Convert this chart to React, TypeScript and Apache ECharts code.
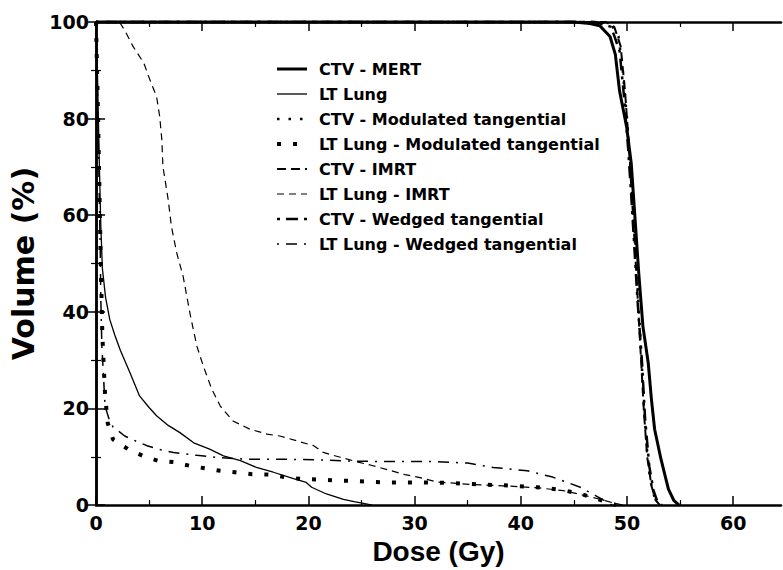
import React, { useEffect, useRef } from "react";
import * as echarts from "echarts";

// ---- Data ----
const seriesNames = [
  "CTV - MERT",
  "LT Lung",
  "CTV - Modulated tangential",
  "LT Lung - Modulated tangential",
  "CTV - IMRT",
  "LT Lung - IMRT",
  "CTV - Wedged tangential",
  "LT Lung - Wedged tangential",
];

const xTickLabels = [0, 10, 20, 30, 40, 50, 60];
const xMinorTicks = [5, 15, 25, 35, 45, 55];

const ctvMertDose = [0, 45, 46.5, 47.45, 48.4, 48.9, 49.3, 49.97, 50.4, 50.75, 51.1, 51.5, 52.0, 52.3, 52.6, 53.2, 53.9, 54.4, 54.9];
const ctvMertVol = [100, 100, 99.7, 99.2, 97, 93.3, 85.7, 78.2, 70.7, 59.5, 48.2, 37, 29.4, 21.9, 15.7, 9.5, 3.3, 1, 0];

const ltLungDose = [0, 0.15, 0.3, 0.45, 0.6, 0.9, 1.3, 1.8, 2.3, 3.2, 4.1, 5.0, 5.7, 6.8, 7.9, 9.2, 10.7, 12.0, 13.6, 15.1, 16.7, 18.6, 19.8, 20.3, 21.7, 23.3, 24.3, 25.2, 26.0];
const ltLungVol = [100, 88, 72, 58, 49, 43, 38.4, 35, 32, 27.4, 22.6, 20.2, 18.5, 16.5, 15, 12.9, 11.6, 10.2, 9.2, 7.8, 6.8, 5.5, 4.7, 3.7, 2.3, 1.2, 0.7, 0.35, 0];

const ctvModDose = [0, 47.5, 48.5, 49.2, 49.6, 50.0, 50.4, 50.7, 51.0, 51.3, 51.6, 51.9, 52.2, 52.6, 53.0];
const ctvModVol = [100, 100, 99.5, 97, 90, 80, 68, 58, 45, 33, 20, 11, 5, 1.5, 0];

const ltLungModDose = [0, 0.15, 0.3, 0.45, 0.6, 0.85, 1.1, 1.6, 3.0, 4.4, 5.8, 7.3, 8.9, 10.3, 11.7, 13.1, 14.7, 16.4, 18.0, 19.5, 21.0, 22.7, 24.4, 26.0, 27.5, 29.3, 30.8, 33.0, 35.8, 38.3, 41.5, 43.7, 45.5, 47.0, 48.2, 49.0];
const ltLungModVol = [100, 85, 68, 50, 35, 23, 17, 13.6, 11.6, 10.2, 9.2, 8.9, 8.1, 7.6, 7.1, 6.8, 6.4, 6.3, 5.7, 5.4, 5.3, 5.1, 5.0, 4.8, 4.7, 4.7, 4.7, 4.6, 4.3, 4.1, 3.7, 3.2, 2.4, 1.4, 0.6, 0];

const ctvImrtDose = [0, 48, 48.8, 49.4, 49.8, 50.1, 50.4, 50.7, 51.0, 51.3, 51.6, 51.9, 52.3, 52.7, 53.1];
const ctvImrtVol = [100, 100, 99, 95, 86, 77, 66, 55, 43, 31, 19, 10, 4, 1, 0];

const ltLungImrtDose = [0, 2.2, 2.7, 3.5, 4.5, 5.2, 5.7, 6.0, 6.2, 6.3, 6.8, 7.1, 7.6, 8.2, 8.9, 9.5, 10.1, 10.9, 11.7, 12.9, 14.5, 16.1, 17.3, 18.9, 20.5, 21.4, 23.0, 24.5, 26.0, 27.5, 29.1, 30.5, 32.1, 35.2, 38.3, 41.5, 44.0, 46.0, 47.5, 48.8, 49.6];
const ltLungImrtVol = [100, 100, 98.3, 94.9, 91.5, 87.3, 84.6, 80.4, 75.6, 70.1, 63.2, 57.7, 52.2, 47.4, 39.1, 32.9, 28.8, 24.0, 20.5, 17.4, 15.7, 14.7, 14.3, 13.3, 12.3, 10.9, 9.9, 9.0, 8.2, 7.3, 6.3, 5.7, 4.8, 4.3, 4.0, 3.6, 3.0, 2.0, 1.2, 0.4, 0];

const ctvWedgedDose = [0, 47, 48.5, 49.3, 49.7, 50.1, 50.4, 50.7, 51.0, 51.4, 51.7, 52.1, 52.5, 52.9, 53.3];
const ctvWedgedVol = [100, 100, 99, 94, 85, 74, 64, 53, 42, 30, 18, 8, 3, 0.5, 0];

const ltLungWedgedDose = [0, 0.15, 0.3, 0.4, 0.45, 0.55, 0.7, 0.85, 1.2, 1.6, 2.7, 3.8, 4.8, 6.0, 7.3, 9.5, 11.7, 14.2, 17.0, 20.5, 24.0, 28.0, 32.0, 35.0, 37.4, 40.6, 43.0, 44.5, 45.6, 47.0, 48.0, 48.6];
const ltLungWedgedVol = [100, 85, 65, 53, 43, 33, 27, 20.5, 18, 16.2, 14.3, 13.2, 12.3, 11.5, 10.9, 10.3, 9.8, 9.5, 9.5, 9.4, 9.1, 9.0, 9.0, 8.7, 7.8, 7.1, 5.8, 4.6, 3.7, 2.0, 0.8, 0];

const doseArrays = [ctvMertDose, ltLungDose, ctvModDose, ltLungModDose, ctvImrtDose, ltLungImrtDose, ctvWedgedDose, ltLungWedgedDose];
const volArrays = [ctvMertVol, ltLungVol, ctvModVol, ltLungModVol, ctvImrtVol, ltLungImrtVol, ctvWedgedVol, ltLungWedgedVol];

// ---- Styles ----
const lineWidths = [3, 1.3, 2.5, 4, 2, 1.2, 2.5, 1.5];
const lineTypes: any[] = ["solid", "solid", [2.5, 9], [4, 12], [9, 5], [7, 5], [3, 6, 12, 6], [2, 7, 11, 7]];

const TICK_FONT = "DejaVu Sans";
const NAME_FONT = "Liberation Sans";

export default function App() {
  const ref = useRef<HTMLDivElement>(null);
  useEffect(() => {
    document.body.style.margin = "0";
    const chart = echarts.init(ref.current!, null, { renderer: "svg" });
    const axisLine = { show: true, lineStyle: { color: "#000", width: 2.5 } };
    const xBase = { type: "value", min: 0, max: 64.5, splitLine: { show: false } };
    const series = seriesNames.map((name, i) => ({
      name,
      type: "line",
      xAxisIndex: 0,
      yAxisIndex: 0,
      symbol: "none",
      showSymbol: false,
      clip: false,
      lineStyle: { color: "#000", width: lineWidths[i], type: lineTypes[i], cap: "butt" },
      itemStyle: { color: "#000" },
      data: doseArrays[i].map((d, k) => [d, volArrays[i][k]]),
      z: 3,
    }));
    const legendData = seriesNames.map((name, i) => ({
      name,
      lineStyle: { color: "#000", width: lineWidths[i], type: lineTypes[i], cap: "butt" },
    }));
    chart.setOption({
      animation: false,
      backgroundColor: "#fff",
      grid: { left: 96, right: 2, top: 22, bottom: 64, containLabel: false },
      legend: {
        orient: "vertical",
        left: 270,
        top: 56,
        itemWidth: 30,
        itemHeight: 14,
        itemGap: 9,
        data: legendData,
        itemStyle: { opacity: 0 },
        textStyle: {
          fontFamily: TICK_FONT,
          fontWeight: "bold",
          fontSize: 16,
          lineHeight: 16,
          color: "#000",
          padding: [0, 0, 0, 7],
        },
      },
      xAxis: [
        {
          ...xBase,
          position: "bottom",
          axisLine,
          axisTick: { show: true, inside: true, length: 9, customValues: xTickLabels, lineStyle: { color: "#000", width: 1.5 } },
          axisLabel: {
            customValues: xTickLabels,
            fontFamily: TICK_FONT,
            fontWeight: "bold",
            fontSize: 19,
            color: "#000",
            margin: 8,
          },
          name: "Dose (Gy)",
          nameLocation: "middle",
          nameGap: 31,
          nameTextStyle: { fontFamily: NAME_FONT, fontWeight: "bold", fontSize: 28, color: "#000" },
        },
        {
          ...xBase,
          position: "bottom",
          axisLine: { show: false },
          axisTick: { show: true, inside: true, length: 5, customValues: xMinorTicks, lineStyle: { color: "#000", width: 1.2 } },
          axisLabel: { show: false },
        },
        {
          ...xBase,
          position: "top",
          axisLine,
          axisTick: { show: true, inside: true, length: 9, customValues: xTickLabels, lineStyle: { color: "#000", width: 1.5 } },
          axisLabel: { show: false },
        },
        {
          ...xBase,
          position: "top",
          axisLine: { show: false },
          axisTick: { show: true, inside: true, length: 5, customValues: xMinorTicks, lineStyle: { color: "#000", width: 1.2 } },
          axisLabel: { show: false },
        },
      ],
      yAxis: [
        {
          type: "value",
          position: "left",
          min: 0,
          max: 100,
          interval: 20,
          axisLine,
          axisTick: { show: true, inside: true, length: 9, lineStyle: { color: "#000", width: 1.5 } },
          minorTick: { show: true, splitNumber: 2, length: 5, lineStyle: { color: "#000", width: 1.2 } },
          splitLine: { show: false },
          minorSplitLine: { show: false },
          axisLabel: { fontFamily: TICK_FONT, fontWeight: "bold", fontSize: 19, color: "#000", margin: 7 },
          name: "Volume (%)",
          nameLocation: "middle",
          nameGap: 50,
          nameRotate: 90,
          nameTextStyle: { fontFamily: TICK_FONT, fontWeight: "bold", fontSize: 30, color: "#000" },
        },
        {
          type: "value",
          position: "right",
          min: 0,
          max: 100,
          interval: 20,
          axisLine,
          axisTick: { show: true, inside: true, length: 9, lineStyle: { color: "#000", width: 1.5 } },
          minorTick: { show: true, splitNumber: 2, length: 5, lineStyle: { color: "#000", width: 1.2 } },
          splitLine: { show: false },
          minorSplitLine: { show: false },
          axisLabel: { show: false },
        },
      ],
      series,
    });
    return () => chart.dispose();
  }, []);
  return <div ref={ref} style={{ width: 783, height: 570 }} />;
}
